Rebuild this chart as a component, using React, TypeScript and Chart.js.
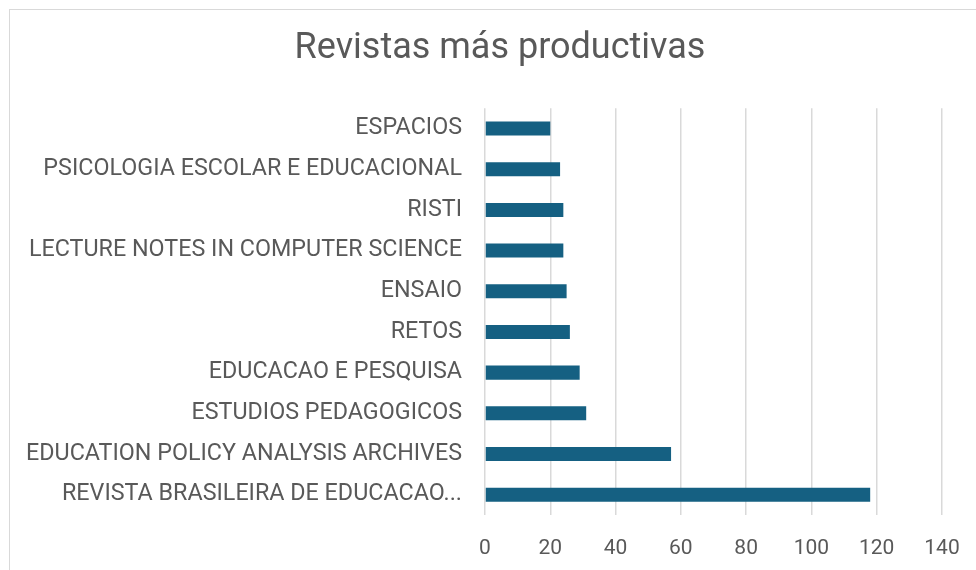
import React, { useEffect, useRef } from "react";
import { Chart, registerables } from "chart.js";

Chart.register(...registerables);

const chartTitle = "Revistas más productivas";
const journals = [
  "ESPACIOS",
  "PSICOLOGIA ESCOLAR E EDUCACIONAL",
  "RISTI",
  "LECTURE NOTES IN COMPUTER SCIENCE",
  "ENSAIO",
  "RETOS",
  "EDUCACAO E PESQUISA",
  "ESTUDIOS PEDAGOGICOS",
  "EDUCATION POLICY ANALYSIS ARCHIVES",
  "REVISTA BRASILEIRA DE EDUCACAO...",
];
const documents = [20, 23, 24, 24, 25, 26, 29, 31, 57, 118];
const axisMin = 0;
const axisMax = 140;
const axisStep = 20;

const FONT = "Roboto, 'Liberation Sans', sans-serif";
const TEXT = "#595959";

export default function App() {
  const ref = useRef<HTMLCanvasElement | null>(null);
  useEffect(() => {
    if (!ref.current) return;
    const chart = new Chart(ref.current, {
      type: "bar",
      data: {
        labels: journals,
        datasets: [
          {
            data: documents,
            backgroundColor: "#156082",
            borderWidth: 0,
            categoryPercentage: 1,
            barPercentage: 0.345,
          },
        ],
      },
      options: {
        indexAxis: "y",
        animation: false,
        responsive: false,
        maintainAspectRatio: false,
        layout: { padding: 0 },
        plugins: {
          legend: { display: false },
          tooltip: { enabled: false },
          title: {
            display: true,
            text: chartTitle,
            color: TEXT,
            font: { family: FONT, size: 36, weight: "normal" },
            padding: { top: 27, bottom: 38 },
          },
        },
        scales: {
          x: {
            min: axisMin,
            max: axisMax,
            ticks: {
              stepSize: axisStep,
              color: TEXT,
              font: { family: FONT, size: 21 },
              padding: 21,
            },
            grid: { color: "#d9d9d9", lineWidth: 1.5, drawTicks: false },
            border: { display: false },
            afterFit: (s: any) => {
              s.height = 55;
            },
          },
          y: {
            ticks: {
              color: TEXT,
              font: { family: FONT, size: 23.3 },
              padding: 23,
              autoSkip: false,
            },
            grid: { display: false, drawTicks: false },
            border: { display: false },
            afterFit: (s: any) => {
              s.width = 485;
            },
          },
          rightSpace: {
            type: "category",
            position: "right",
            labels: journals,
            ticks: { display: false },
            grid: { display: false, drawTicks: false },
            border: { display: false },
            afterFit: (s: any) => {
              s.width = 58;
            },
          },
        },
      },
    });
    return () => chart.destroy();
  }, []);
  return (
    <div style={{ position: "fixed", left: 0, top: 0, width: 976, height: 570, overflow: "hidden", background: "#fff" }}>
      <div
        style={{
          position: "absolute",
          left: 9,
          top: 9,
          width: 1000,
          height: 600,
          border: "1px solid #d9d9d9",
          boxSizing: "border-box",
        }}
      />
      <canvas ref={ref} width={1000} height={570} style={{ position: "absolute", left: 0, top: 0, width: 1000, height: 570 }} />
    </div>
  );
}
